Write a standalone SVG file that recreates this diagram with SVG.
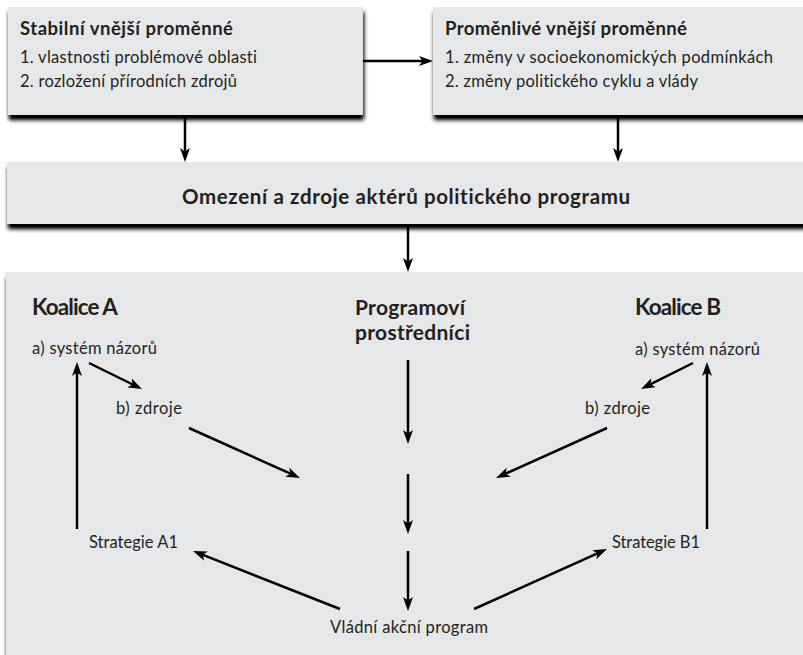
<svg xmlns="http://www.w3.org/2000/svg" width="803" height="655" viewBox="0 0 803 655">
<defs>
<filter id="shadow" x="-5%" y="-10%" width="110%" height="130%">
<feGaussianBlur in="SourceAlpha" stdDeviation="2.2"/>
<feOffset dx="1" dy="5" result="o"/>
<feComponentTransfer><feFuncA type="linear" slope="1.1"/></feComponentTransfer>
<feMerge><feMergeNode/><feMergeNode in="SourceGraphic"/></feMerge>
</filter>
<marker id="ah" viewBox="0 0 14 10" markerWidth="14" markerHeight="10" refX="6" refY="5" orient="auto" markerUnits="userSpaceOnUse">
<path d="M0,0 L14,5 L0,10 L3.5,5 Z" fill="#000"/>
</marker>
</defs>
<style>
.box{fill:#e6e7e8;filter:url(#shadow)}
.t{font-family:Lato,"Noto Sans","Liberation Sans",sans-serif;fill:#231f20;font-variant-ligatures:none}
.b{font-weight:bold}
.h{font-size:18.5px}
.r{font-size:16.5px}
.m{font-size:20.5px}
.k{font-size:22.5px}
.p{font-size:21px}
.c line{stroke:#000;stroke-width:2.5;marker-end:url(#ah)}
</style>
<rect width="803" height="655" fill="#fff"/>
<g id="bottom-panel"><rect class="box" x="6" y="272" width="805" height="395"/></g>
<g id="stable-vars">
<rect class="box" x="8" y="7" width="355" height="108"/>
<text class="t b h" x="20" y="35" textLength="213">Stabilní vnější proměnné</text>
<text class="t r" x="20" y="63" textLength="237">1. vlastnosti problémové oblasti</text>
<text class="t r" x="20" y="87" textLength="217">2. rozložení přírodních zdrojů</text>
</g>
<g id="variable-vars">
<rect class="box" x="433" y="7" width="380" height="108"/>
<text class="t b h" x="445" y="35" textLength="242">Proměnlivé vnější proměnné</text>
<text class="t r" x="445" y="63" textLength="328">1. změny v socioekonomických podmínkách</text>
<text class="t r" x="445" y="87" textLength="253">2. změny politického cyklu a vlády</text>
</g>
<g id="constraints">
<rect class="box" x="7" y="162" width="805" height="62"/>
<text class="t b m" x="406" y="204" text-anchor="middle" textLength="448">Omezení a zdroje aktérů politického programu</text>
</g>
<g id="coalition-a">
<text class="t b k" x="32" y="315" textLength="86">Koalice A</text>
<text class="t r" x="32" y="354" textLength="125">a) systém názorů</text>
<text class="t r" x="116" y="414" textLength="66">b) zdroje</text>
<text class="t r" x="89" y="548" textLength="89">Strategie A1</text>
</g>
<g id="brokers">
<text class="t b p" x="355" y="315" textLength="110">Programoví</text>
<text class="t b p" x="355" y="340" textLength="115">prostředníci</text>
</g>
<g id="coalition-b">
<text class="t b k" x="635" y="315" textLength="86">Koalice B</text>
<text class="t r" x="635" y="355" textLength="125">a) systém názorů</text>
<text class="t r" x="585" y="414" textLength="65">b) zdroje</text>
<text class="t r" x="612" y="548" textLength="88">Strategie B1</text>
</g>
<g id="program">
<text class="t r" x="330" y="633" textLength="158">Vládní akční program</text>
</g>
<g id="connectors" class="c">
<line x1="363" y1="61" x2="425" y2="61"/>
<line x1="185" y1="115" x2="185" y2="154"/>
<line x1="618" y1="115" x2="618" y2="154"/>
<line x1="408" y1="224" x2="408" y2="264"/>
<line x1="408" y1="360" x2="408" y2="436"/>
<line x1="408" y1="474" x2="408" y2="526"/>
<line x1="408" y1="551" x2="408" y2="603"/>
<line x1="77" y1="529" x2="77" y2="370"/>
<line x1="89" y1="363" x2="134.8" y2="385.5"/>
<line x1="189" y1="428" x2="292.7" y2="474.7"/>
<line x1="340" y1="609" x2="200.4" y2="553.9"/>
<line x1="707" y1="529" x2="707" y2="370"/>
<line x1="693" y1="363" x2="648.2" y2="385.4"/>
<line x1="607" y1="428" x2="503.3" y2="474.7"/>
<line x1="474" y1="609" x2="599.7" y2="552.3"/>
</g>
</svg>
